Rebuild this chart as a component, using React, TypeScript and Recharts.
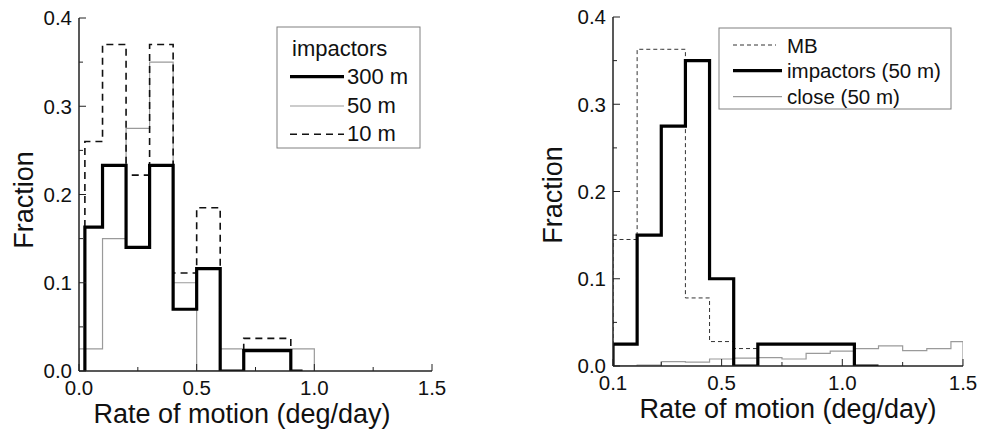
import React from "react";
import { LineChart, Line, XAxis, YAxis } from "recharts";

const FONT = "'Liberation Sans', Arial, Helvetica, sans-serif";

// left panel: rate histograms of impactors by size (bin edges + fraction per bin)
const edges300 = [0.025, 0.1, 0.2, 0.3, 0.4, 0.5, 0.6, 0.7, 0.8, 0.9, 0.95];
const frac300 = [0.163, 0.233, 0.14, 0.233, 0.07, 0.116, 0, 0.023, 0.023, 0];
const edges50 = [0, 0.1, 0.2, 0.3, 0.4, 0.5, 0.6, 0.7, 0.8, 0.9, 1.0];
const frac50 = [0.025, 0.15, 0.275, 0.35, 0.1, 0, 0.025, 0.025, 0.025, 0.025];
const edges10 = [0.025, 0.1, 0.2, 0.3, 0.4, 0.5, 0.6, 0.7, 0.8, 0.9];
const frac10 = [0.26, 0.37, 0.222, 0.37, 0.111, 0.185, 0, 0.037, 0.037];

// right panel: main belt vs impactors vs close approachers (50 m)
const edgesMB = [0.05, 0.15, 0.25, 0.35, 0.45, 0.55, 0.65];
const fracMB = [0.145, 0.363, 0.363, 0.078, 0.028, 0.02];
const edgesImp = [0.05, 0.15, 0.25, 0.35, 0.45, 0.55, 0.65, 0.75, 0.85, 0.95, 1.05, 1.15];
const fracImp = [0.025, 0.15, 0.275, 0.35, 0.1, 0, 0.025, 0.025, 0.025, 0.025, 0];
const edgesClose = [0.05, 0.15, 0.25, 0.35, 0.45, 0.55, 0.65, 0.75, 0.85, 0.95, 1.05, 1.15, 1.25, 1.35, 1.45, 1.5];
const fracClose = [0, 0.001, 0.005, 0.0045, 0.008, 0.009, 0.0095, 0.008, 0.0145, 0.017, 0.02, 0.023, 0.0176, 0.02, 0.028];

// axis ticks
const fracTicks = [0, 0.05, 0.1, 0.15, 0.2, 0.25, 0.3, 0.35, 0.4];
const fracMajor = [0, 0.1, 0.2, 0.3, 0.4];
const fracLabels = ["0.0", "0.1", "0.2", "0.3", "0.4"];
const leftRateTicks = [0, 0.25, 0.5, 0.75, 1, 1.25, 1.5];
const leftRateMajor = [0, 0.5, 1, 1.5];
const leftRateLabels = ["0.0", "0.5", "1.0", "1.5"];
const rightRateTicks = [0.05, 0.25, 0.5, 0.75, 1, 1.25, 1.5];
const rightRateMajor = [0.05, 0.5, 1, 1.5];
const rightRateLabels = ["0.1", "0.5", "1.0", "1.5"];

// histogram outline: rise at first edge, step across bins, drop at last edge
const steps = (edges: number[], fr: number[]) => {
  const pts = [{ x: edges[0], y: 0 }];
  fr.forEach((f, i) => pts.push({ x: edges[i], y: f }));
  pts.push({ x: edges[edges.length - 1], y: 0 });
  return pts;
};

type Side = "bottom" | "left" | "top" | "right";

// inward ticks, labels only on major ones
const makeTick = (side: Side, majors: number[], labels?: string[]) => (props: any) => {
  const { x, y, payload } = props;
  const idx = majors.findIndex((m) => Math.abs(m - payload.value) < 1e-6);
  const len = idx >= 0 ? 7 : 4;
  let x2 = x;
  let y2 = y;
  if (side === "bottom") y2 = y - len;
  if (side === "top") y2 = y + len;
  if (side === "left") x2 = x + len;
  if (side === "right") x2 = x - len;
  return (
    <g>
      <line x1={x} y1={y} x2={x2} y2={y2} stroke="#222" strokeWidth={1} />
      {labels && idx >= 0 && side === "bottom" && (
        <text x={x} y={y + 24} textAnchor="middle" fontSize={20.5} fontFamily={FONT} fill="#111">
          {labels[idx]}
        </text>
      )}
      {labels && idx >= 0 && side === "left" && (
        <text x={x - 7} y={y + 7.3} textAnchor="end" fontSize={20.5} fontFamily={FONT} fill="#111">
          {labels[idx]}
        </text>
      )}
    </g>
  );
};

const AXIS = { stroke: "#222", strokeWidth: 1.5 };

const Frame = ({ xDomain, xTicks, xMajor, xLabels, xHeight, yWidth }: any) => [
  <XAxis
    key="xb"
    dataKey="x"
    type="number"
    domain={xDomain}
    ticks={xTicks}
    interval={0}
    height={xHeight}
    tickSize={0}
    tickMargin={0}
    tickLine={false}
    axisLine={AXIS}
    allowDataOverflow
    tick={makeTick("bottom", xMajor, xLabels)}
  />,
  <XAxis
    key="xt"
    xAxisId="top"
    orientation="top"
    dataKey="x"
    type="number"
    domain={xDomain}
    ticks={xTicks}
    interval={0}
    height={0}
    tickSize={0}
    tickMargin={0}
    tickLine={false}
    axisLine={AXIS}
    allowDataOverflow
    tick={makeTick("top", xMajor)}
  />,
  <YAxis
    key="yl"
    type="number"
    domain={[0, 0.4]}
    ticks={fracTicks}
    interval={0}
    width={yWidth}
    tickSize={0}
    tickMargin={0}
    tickLine={false}
    axisLine={AXIS}
    allowDataOverflow
    tick={makeTick("left", fracMajor, fracLabels)}
  />,
  <YAxis
    key="yr"
    yAxisId="r"
    orientation="right"
    type="number"
    domain={[0, 0.4]}
    ticks={fracTicks}
    interval={0}
    width={0}
    tickSize={0}
    tickMargin={0}
    tickLine={false}
    axisLine={AXIS}
    allowDataOverflow
    tick={makeTick("right", fracMajor)}
  />,
];

const txt = { fontFamily: FONT, fill: "#111" };

export default function App() {
  return (
    <div style={{ position: "absolute", left: 0, top: 0, width: 984, height: 432, background: "#fff" }}>
      <div style={{ position: "absolute", left: 0, top: 0 }}>
        <LineChart width={480} height={432} margin={{ top: 18, right: 48, bottom: 0, left: 0 }}>
          {Frame({
            xDomain: [0, 1.5],
            xTicks: leftRateTicks,
            xMajor: leftRateMajor,
            xLabels: leftRateLabels,
            xHeight: 61,
            yWidth: 79,
          })}
          <Line data={steps(edges50, frac50)} dataKey="y" type="stepAfter" stroke="#9a9a9a" strokeWidth={1.2} dot={false} isAnimationActive={false} />
          <Line data={steps(edges10, frac10)} dataKey="y" type="stepAfter" stroke="#111" strokeWidth={1.6} strokeDasharray="7 5" dot={false} isAnimationActive={false} />
          <Line data={steps(edges300, frac300)} dataKey="y" type="stepAfter" stroke="#000" strokeWidth={3.2} dot={false} isAnimationActive={false} />
        </LineChart>
      </div>
      <div style={{ position: "absolute", left: 500, top: 0 }}>
        <LineChart width={484} height={432} margin={{ top: 17, right: 21, bottom: 0, left: 0 }}>
          {Frame({
            xDomain: [0.05, 1.5],
            xTicks: rightRateTicks,
            xMajor: rightRateMajor,
            xLabels: rightRateLabels,
            xHeight: 66,
            yWidth: 113,
          })}
          <Line data={steps(edgesClose, fracClose)} dataKey="y" type="stepAfter" stroke="#9a9a9a" strokeWidth={1.2} dot={false} isAnimationActive={false} />
          <Line data={steps(edgesMB, fracMB)} dataKey="y" type="stepAfter" stroke="#333" strokeWidth={1} strokeDasharray="4 3" dot={false} isAnimationActive={false} />
          <Line data={steps(edgesImp, fracImp)} dataKey="y" type="stepAfter" stroke="#000" strokeWidth={3.2} dot={false} isAnimationActive={false} />
        </LineChart>
      </div>
      <svg width={984} height={432} style={{ position: "absolute", left: 0, top: 0, pointerEvents: "none" }}>
        {/* axis titles */}
        <text {...txt} fontSize={27} textAnchor="middle" transform="translate(33,200) rotate(-90)">Fraction</text>
        <text {...txt} fontSize={27} textAnchor="middle" transform="translate(562,195) rotate(-90)">Fraction</text>
        <text {...txt} fontSize={27} textAnchor="middle" x={242} y={423}>Rate of motion (deg/day)</text>
        <text {...txt} fontSize={27} textAnchor="middle" x={788} y={418}>Rate of motion (deg/day)</text>

        {/* left legend */}
        <rect x={277} y={27} width={143} height={121} fill="#fff" stroke="#808080" strokeWidth={1} />
        <text {...txt} fontSize={22} x={292} y={56}>impactors</text>
        <line x1={290} x2={344} y1={76.7} y2={76.7} stroke="#000" strokeWidth={3.2} />
        <text {...txt} fontSize={22} x={347} y={84}>300 m</text>
        <line x1={290} x2={344} y1={106} y2={106} stroke="#9a9a9a" strokeWidth={1.2} />
        <text {...txt} fontSize={22} x={347} y={112.5}>50 m</text>
        <line x1={290} x2={344} y1={134.3} y2={134.3} stroke="#111" strokeWidth={1.6} strokeDasharray="7 5" />
        <text {...txt} fontSize={22} x={347} y={141}>10 m</text>

        {/* right legend */}
        <rect x={719} y={28} width={232} height={81} fill="#fff" stroke="#808080" strokeWidth={1} />
        <line x1={733} x2={776} y1={45} y2={45} stroke="#333" strokeWidth={1} strokeDasharray="4 3" />
        <text {...txt} fontSize={20.5} x={787} y={52.7}>MB</text>
        <line x1={733} x2={782} y1={70.7} y2={70.7} stroke="#000" strokeWidth={3.2} />
        <text {...txt} fontSize={20.5} x={787} y={77.5}>impactors (50 m)</text>
        <line x1={733} x2={782} y1={96.7} y2={96.7} stroke="#9a9a9a" strokeWidth={1.2} />
        <text {...txt} fontSize={20.5} x={787} y={103.5}>close (50 m)</text>
      </svg>
    </div>
  );
}
